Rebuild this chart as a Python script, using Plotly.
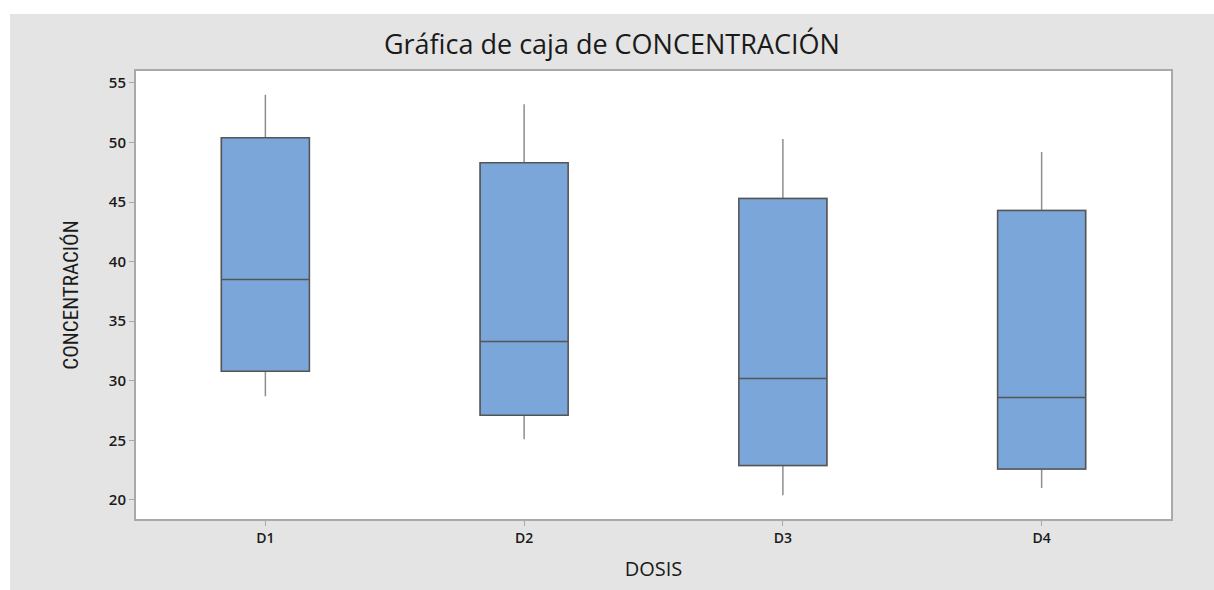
import plotly.graph_objects as go

dosis = ["D1", "D2", "D3", "D4"]
bigote_inf = [28.7, 25.1, 20.4, 21.0]
q1 = [30.8, 27.1, 22.9, 22.6]
mediana = [38.5, 33.3, 30.2, 28.6]
q3 = [50.4, 48.3, 45.3, 44.3]
bigote_sup = [54.0, 53.2, 50.3, 49.2]

y_ticks = [20, 25, 30, 35, 40, 45, 50, 55]

W, H = 1214, 590
L, R, T, B = 136, 43, 71, 71
pw, ph = W - L - R, H - T - B

fig = go.Figure()

# bigotes (gris claro)
fig.add_trace(
    go.Box(
        x=dosis,
        q1=q1,
        median=mediana,
        q3=q3,
        lowerfence=bigote_inf,
        upperfence=bigote_sup,
        fillcolor="#7BA6D9",
        line=dict(color="#8E8E8E", width=1.5),
        whiskerwidth=0,
        width=0.34,
        boxpoints=False,
        showlegend=False,
        hoverinfo="y",
    )
)

# caja con borde más oscuro encima
fig.add_trace(
    go.Box(
        x=dosis,
        q1=q1,
        median=mediana,
        q3=q3,
        lowerfence=q1,
        upperfence=q3,
        fillcolor="#7BA6D9",
        line=dict(color="#555555", width=1.5),
        whiskerwidth=0,
        width=0.34,
        boxpoints=False,
        showlegend=False,
        hoverinfo="skip",
    )
)

# franjas blancas fuera del panel gris
def px_x(p):
    return (p - L) / pw


def px_y(p):
    return (H - B - p) / ph


fig.add_shape(type="rect", xref="paper", yref="paper",
              x0=px_x(0), x1=px_x(10), y0=px_y(H), y1=px_y(0),
              fillcolor="white", line_width=0, layer="above")
fig.add_shape(type="rect", xref="paper", yref="paper",
              x0=px_x(0), x1=px_x(W), y0=px_y(14), y1=px_y(0),
              fillcolor="white", line_width=0, layer="above")

fig.update_layout(
    width=W,
    height=H,
    margin=dict(l=L, r=R, t=T, b=B),
    paper_bgcolor="#E4E4E4",
    plot_bgcolor="white",
    boxmode="overlay",
    title=dict(
        text="Gráfica de caja de CONCENTRACIÓN",
        x=0.504,
        xanchor="center",
        y=0.925,
        yanchor="middle",
        font=dict(family="Open Sans", size=27, color="#1a1a1a"),
    ),
    font=dict(family="Open Sans", color="#1a1a1a"),
)

fig.update_xaxes(
    range=[-0.5, 3.5],
    showline=True,
    mirror=True,
    linecolor="#A9A9A9",
    linewidth=2,
    ticks="outside",
    ticklen=5,
    tickcolor="#A9A9A9",
    showgrid=False,
    tickfont=dict(size=14, color="#1a1a1a", weight=600),
    title=dict(text="DOSIS", font=dict(size=20, color="#1a1a1a"), standoff=16),
)

fig.update_yaxes(
    range=[18.4, 56.0],
    tickvals=y_ticks,
    showline=True,
    mirror=True,
    linecolor="#A9A9A9",
    linewidth=2,
    ticks="outside",
    ticklen=5,
    tickcolor="#A9A9A9",
    showgrid=False,
    zeroline=False,
    tickfont=dict(size=15, color="#1a1a1a", weight=600),
    title=dict(
        text="CONCENTRACIÓN",
        font=dict(family="Liberation Sans Narrow, Arial Narrow, Roboto Condensed, Roboto", size=21, color="#1a1a1a"),
        standoff=24,
    ),
)

fig.write_html(
    "out.html",
    config={"displayModeBar": False},
    post_script="document.body.style.margin='0px';",
)
